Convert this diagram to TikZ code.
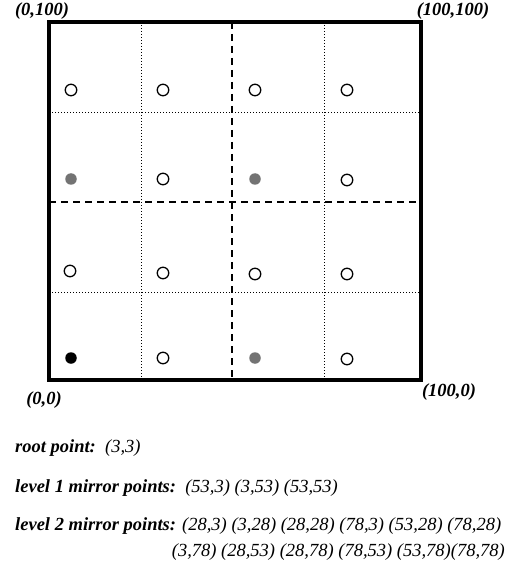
\documentclass[tikz,border=0pt]{standalone}
\usepackage{fontspec}
\setmainfont{Liberation Serif}
\usetikzlibrary{positioning}

\tikzset{
  cornerlbl/.style={font=\fontsize{18.5}{20}\selectfont\bfseries\itshape, inner sep=1pt},
  textline/.style={font=\fontsize{18.5}{20}\selectfont\itshape, inner sep=0pt, anchor=west},
  pt/.style={circle, minimum size=11.5pt, inner sep=0pt},
  openpt/.style={pt, draw, line width=1.3pt, fill=white},
  mirrorpt/.style={pt, fill=black!55},
  rootpt/.style={pt, fill=black},
  halfline/.style={line width=1.2pt, dash pattern=on 7pt off 5pt},
  quarterline/.style={line width=0.8pt, dash pattern=on 1pt off 2pt},
}

\begin{document}
\begin{tikzpicture}[x=1pt, y=-1pt]
    \useasboundingbox (0,0) rectangle (513,569);

    % box corners
    \coordinate (SW) at (49,380);
    \coordinate (NE) at (421,22);

    % dotted quarter lines
    \draw[quarterline] (141,22) -- (141,380);
    \draw[quarterline] (324,22) -- (324,380);
    \draw[quarterline] (49,112) -- (421,112);
    \draw[quarterline] (49,292) -- (421,292);

    % dashed half lines
    \draw[halfline] (232,22) -- (232,380);
    \draw[halfline] (49,202) -- (421,202);

    % outer box
    \draw[line width=3.2pt] (SW) rectangle (NE);

    % corner labels
    \node[cornerlbl] (c0100) at (42,11) {(0,100)};
    \node[cornerlbl] (c100100) at (453,11) {(100,100)};
    \node[cornerlbl] (c00) at (44,400) {(0,0)};
    \node[cornerlbl] (c1000) at (449,392) {(100,0)};

    % points
    \foreach \px/\py/\kind/\nm in {
        71/90/openpt/p11, 163/90/openpt/p12, 255/90/openpt/p13, 347/90/openpt/p14,
        71/179/mirrorpt/p21, 163/179/openpt/p22, 255/179/mirrorpt/p23, 347/180/openpt/p24,
        70/271/openpt/p31, 163/273/openpt/p32, 255/274/openpt/p33, 347/274/openpt/p34,
        71/358/rootpt/p41, 163/358/openpt/p42, 255/358/mirrorpt/p43, 347/359/openpt/p44}
        \node[\kind] (\nm) at (\px,\py) {};

    % point lists
    \node[textline] (root) at (15,448) {\textbf{root point:}\enspace (3,3)};
    \node[textline] (lvl1) at (15,488) {\textbf{level 1 mirror points:}\enspace (53,3) (3,53) (53,53)};
    \node[textline] (lvl2) at (15,526) {\textbf{level 2 mirror points:} (28,3) (3,28) (28,28) (78,3) (53,28) (78,28)};
    \node[textline, anchor=east] (lvl2b) at (505,552) {(3,78) (28,53) (28,78) (78,53) (53,78)(78,78)};
\end{tikzpicture}
\end{document}
